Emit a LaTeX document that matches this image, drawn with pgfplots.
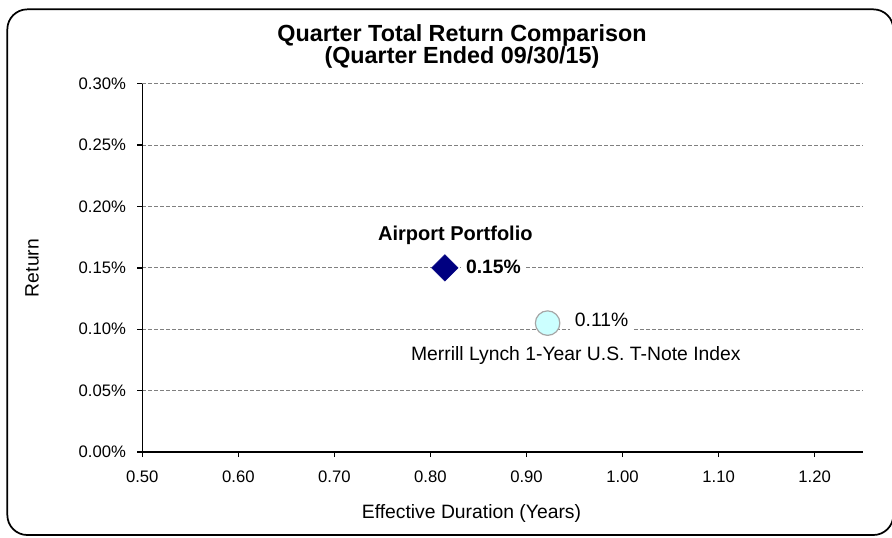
\documentclass[border=0pt]{standalone}
\usepackage{pgfplots}
\pgfplotsset{compat=1.18}
\usepackage{fontspec}
\setmainfont{Liberation Sans}
\definecolor{navy}{HTML}{000080}
\definecolor{lcyan}{HTML}{CCFFFF}
\definecolor{gridgray}{HTML}{808080}
\definecolor{edgegray}{HTML}{A6A6A6}
\begin{document}
\begin{tikzpicture}
\useasboundingbox (0,0) rectangle (669pt,-402.75pt);
\draw[line width=1.3pt, rounded corners=15pt] (5.5pt,-7pt) rectangle (670pt,-401.25pt);
\node[font=\fontsize{17.5}{16.8}\selectfont\bfseries, align=center] at (346.5pt,-35pt) {Quarter Total Return Comparison\\(Quarter Ended 09/30/15)};
\node[font=\fontsize{14.5}{17}\selectfont] at (353.6pt,-384.75pt) {Effective Duration (Years)};
\node[font=\fontsize{14.5}{17}\selectfont, rotate=90] at (24pt,-201pt) {Return};
\begin{axis}[
  at={(106.7pt,-339pt)}, anchor=south west,
  scale only axis, width=540.3pt, height=276.2pt,
  xmin=0.5, xmax=1.25, ymin=0, ymax=0.3,
  axis x line*=bottom, axis y line*=left,
  axis line style={black, line width=1pt},
  tick style={black, line width=1pt},
  tick align=outside, major tick length=3.75pt,
  xtick={0.5,0.6,0.7,0.8,0.9,1.0,1.1,1.2},
  ytick={0,0.05,0.10,0.15,0.20,0.25,0.30},
  /pgf/number format/assume math mode=true,
  tick label style={font=\fontsize{12.5}{15}\selectfont},
  xticklabel style={yshift=-7pt},
  yticklabel style={xshift=-5pt},
  xticklabel={\pgfmathprintnumber[fixed,fixed zerofill,precision=2]{\tick}},
  yticklabel={\pgfmathprintnumber[fixed,fixed zerofill,precision=2]{\tick}\%},
  ymajorgrids,
  major grid style={gridgray, line width=0.75pt, dash pattern=on 3pt off 1.5pt},
  clip=false,
]
\addplot[only marks, mark=square*, mark options={rotate=45, fill=navy, draw=navy}, mark size=7pt] coordinates {(0.815,0.15)};
\addplot[only marks, mark=*, mark options={fill=lcyan, draw=edgegray, line width=0.9pt}, mark size=9.2pt] coordinates {(0.922,0.105)};
\node[font=\fontsize{15}{18}\selectfont\bfseries, xshift=7.9pt, yshift=24.75pt] at (axis cs:0.815,0.15) {Airport Portfolio};
\node[fill=white, anchor=west, inner xsep=3.75pt, inner ysep=3pt, font=\fontsize{14.5}{17}\selectfont\bfseries, xshift=12pt, yshift=0.75pt] at (axis cs:0.815,0.15) {0.15\%};
\node[fill=white, anchor=west, inner xsep=3.75pt, inner ysep=4pt, font=\fontsize{14.5}{17}\selectfont, xshift=16.5pt, yshift=2.25pt] at (axis cs:0.922,0.105) {0.11\%};
\node[fill=white, inner sep=2pt, font=\fontsize{14.5}{17}\selectfont, xshift=21.2pt, yshift=-24pt] at (axis cs:0.922,0.105) {Merrill Lynch 1-Year U.S. T-Note Index};
\end{axis}
\end{tikzpicture}
\end{document}
